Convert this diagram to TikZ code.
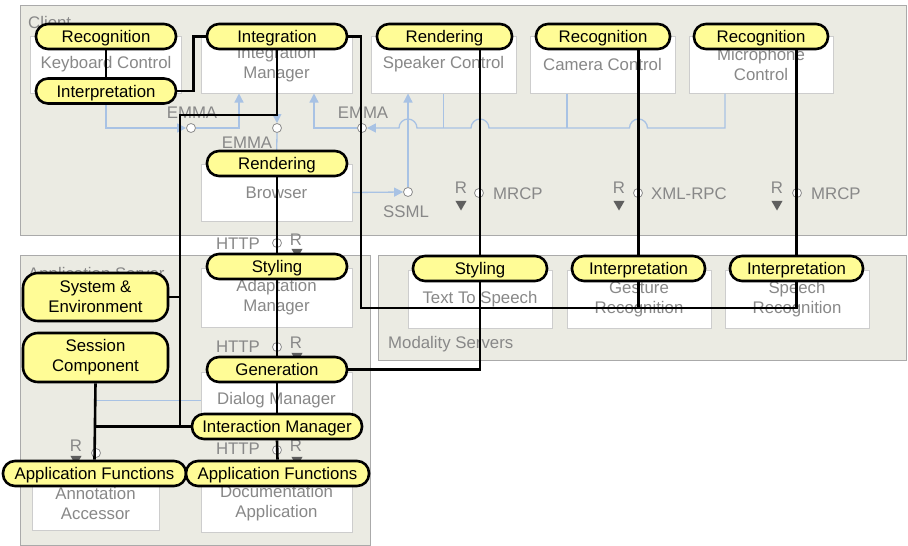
\documentclass[tikz,border=0pt]{standalone}
\usepackage{fontspec}
\setmainfont{Liberation Sans}
\usetikzlibrary{arrows.meta,shapes.geometric,calc}
\definecolor{contfill}{RGB}{235,235,227}
\definecolor{contline}{RGB}{170,170,170}
\definecolor{compline}{RGB}{205,205,205}
\definecolor{txtgray}{RGB}{136,136,136}
\definecolor{capfill}{RGB}{255,252,150}
\definecolor{flowblue}{RGB}{168,194,228}
\definecolor{portline}{RGB}{140,140,140}
\definecolor{rdark}{RGB}{95,95,95}
\newcommand{\fsz}{\fontsize{16.8}{20}\selectfont}
\pgfdeclarelayer{base}
\pgfdeclarelayer{links}
\pgfsetlayers{base,links,main}
\begin{document}
\begin{tikzpicture}[x=1pt,y=-1pt,
  container/.style={draw=contline, fill=contfill, line width=1pt},
  comp/.style={draw=compline, fill=white, line width=1pt, text=txtgray, font=\fsz, align=center, inner sep=0pt},
  lbl/.style={text=txtgray, font=\fsz, inner sep=0pt},
  capbase/.style={draw=black, line width=2.6pt, fill=capfill, rounded corners=12pt, minimum height=25pt, inner sep=0pt, font=\fsz, align=center},
  capsule/.style={capbase, text height=12pt, text depth=0pt},
  link/.style={draw=black, line width=2.6pt},
  flow/.style={draw=flowblue, line width=1.3pt},
  flowto/.style={flow, -{Triangle[length=9pt,width=9pt]}},
  port/.style={circle, draw=portline, fill=white, line width=0.8pt, minimum size=9pt, inner sep=0pt},
  rmark/.style={regular polygon, regular polygon sides=3, shape border rotate=180, fill=rdark, minimum size=13pt, inner sep=0pt}
]
\useasboundingbox (0,0) rectangle (908,546);

% ---- capsules (top layer) ----
\node[capsule, minimum width=140pt] (capRecKbd) at (106,36.5) {Recognition};
\node[capsule, minimum width=140pt] (capIntKbd) at (106,91) {Interpretation};
\node[capsule, minimum width=140pt] (capIntegr) at (277,36.5) {Integration};
\node[capsule, minimum width=140pt] (capRendBr) at (277,163.5) {Rendering};
\node[capsule, minimum width=135pt] (capRendSpk) at (444.5,36.5) {Rendering};
\node[capsule, minimum width=134pt] (capRecCam) at (603,36.5) {Recognition};
\node[capsule, minimum width=134pt] (capRecMic) at (761,36.5) {Recognition};
\node[capsule, minimum width=140pt] (capStyAd) at (277,266.5) {Styling};
\node[capbase, minimum width=145pt, minimum height=48pt, rounded corners=15pt] (capSys) at (95.5,297) {System \&\\Environment};
\node[capbase, minimum width=145pt, minimum height=49pt, rounded corners=15pt] (capSess) at (95.5,357.5) {Session\\Component};
\node[capsule, minimum width=140pt] (capGen) at (277,369.5) {Generation};
\node[capsule, minimum width=170pt] (capIM) at (277,426.5) {Interaction Manager};
\node[capsule, minimum width=183pt] (capAFl) at (94.5,473.5) {Application Functions};
\node[capsule, minimum width=183pt] (capAFr) at (277.5,473.5) {Application Functions};
\node[capsule, minimum width=134pt] (capStyTTS) at (480,268.5) {Styling};
\node[capsule, minimum width=133pt] (capIntG) at (638.5,268.5) {Interpretation};
\node[capsule, minimum width=133pt] (capIntS) at (796.5,268.5) {Interpretation};

\begin{pgfonlayer}{base}
% ---- containers ----
\draw[container] (20,5) rectangle (906,235);
\draw[container] (20,255) rectangle (370,545);
\draw[container] (378,255) rectangle (906,360);
\node[lbl, anchor=base west] (clientlbl) at (28,28) {Client};
\node[lbl, anchor=base west] (appsrvlbl) at (28,279) {Application Server};
\node[lbl, anchor=base west] (modlbl) at (388,348) {Modality Servers};

% ---- components ----
\node[comp, minimum width=151pt, minimum height=57pt] (kbd) at (106,64.5) {Keyboard Control};
\node[comp, minimum width=151pt, minimum height=57pt] (intm) at (276.5,64.5) {Integration\\Manager};
\node[comp, minimum width=145pt, minimum height=57pt] (spk) at (443.5,64.5) {Speaker Control};
\node[comp, minimum width=145pt, minimum height=57pt] (cam) at (602.5,64.5) {Camera Control};
\node[comp, minimum width=144pt, minimum height=57pt] (mic) at (761,64.5) {Microphone\\Control};
\node[comp, minimum width=151pt, minimum height=57pt] (browser) at (276.5,192.5) {Browser};
\node[comp, minimum width=151pt, minimum height=59pt] (adapt) at (276.5,297.5) {Adaptation\\Manager};
\node[comp, minimum width=151pt, minimum height=56pt] (dialog) at (276.5,400) {Dialog Manager};
\node[comp, minimum width=127pt, minimum height=54pt] (annot) at (95.5,503) {Annotation\\Accessor};
\node[comp, minimum width=151pt, minimum height=58pt] (docapp) at (276.5,503) {Documentation\\Application};
\node[comp, minimum width=144pt, minimum height=58pt] (tts) at (480,299) {Text To Speech};
\node[comp, minimum width=144pt, minimum height=58pt] (gesture) at (639,299) {Gesture\\Recognition};
\node[comp, minimum width=144pt, minimum height=58pt] (speech) at (797,299) {Speech\\Recognition};

% ---- ports ----
\node[port] (emmaA) at (191,128) {};
\node[port] (emmaB) at (277,128) {};
\node[port] (emmaC) at (362,128) {};
\node[port] (ssml) at (408,192) {};
\node[port] (mrcpA) at (479,193) {};
\node[port] (xmlrpc) at (638,193) {};
\node[port] (mrcpB) at (797,193) {};
\node[port] (httpA) at (277,243) {};
\node[port] (httpB) at (277,347) {};
\node[port] (httpC) at (277,450) {};
\node[port] (annport) at (96,453) {};

% ---- required-interface marks ----
\node[rmark] (rtA) at (461,204) {};
\node[rmark] (rtB) at (619,204) {};
\node[rmark] (rtC) at (777,204) {};
\node[rmark] (rtD) at (297,252) {};
\node[rmark] (rtE) at (297,356) {};
\node[rmark] (rtF) at (297,460) {};
\node[rmark] (rtG) at (76,459) {};

% ---- data flows ----
\draw[flowto] (kbd.south) |- (emmaA.west);
\draw[flowto] (emmaA.east) -| ([xshift=-37.5pt]intm.south);
\draw[flowto] (intm.south) -- (emmaB.north);
\draw[flow] (emmaB.south) -- (browser.north);
\draw[flowto] (emmaC.west) -| ([xshift=37.5pt]intm.south);
\draw[flowto] ([xshift=-36pt]mic.south) |- ($(capIntG |- emmaC)+(9,0)$)
  arc[start angle=0,end angle=180,radius=9pt]
  -- ($(capStyTTS |- emmaC)+(9,0)$)
  arc[start angle=0,end angle=180,radius=9pt]
  -- ($(ssml |- emmaC)+(9,0)$)
  arc[start angle=0,end angle=180,radius=9pt]
  -- (emmaC.east);
\draw[flow] ([xshift=-35.5pt]cam.south) -- ([xshift=-35.5pt]cam.south |- emmaC);
\draw[flow] (spk.south) -- (spk.south |- emmaC);
\draw[flowto] (browser.east) -- (ssml.west);
\draw[flowto] (ssml.north) -- (ssml.north |- spk.south);
\draw[flow, line width=0.9pt] (annport |- dialog.west) -- (dialog.west);

% ---- interface labels ----
\node[lbl] (emmaAl) at (192,112.5) {EMMA};
\node[lbl] (emmaBl) at (247,142.5) {EMMA};
\node[lbl] (emmaCl) at (363,112.5) {EMMA};
\node[lbl] (ssmll) at (406,211.5) {SSML};
\node[lbl] (rA) at (461,187.5) {R};
\node[lbl] (rB) at (619,187.5) {R};
\node[lbl] (rC) at (777,187.5) {R};
\node[lbl, anchor=west] (mrcpAl) at (493,194) {MRCP};
\node[lbl, anchor=west] (xmll) at (651,194) {XML-RPC};
\node[lbl, anchor=west] (mrcpBl) at (811,194) {MRCP};
\node[lbl] (httpAl) at (238,244) {HTTP};
\node[lbl] (httpBl) at (238,347) {HTTP};
\node[lbl] (httpCl) at (238,449) {HTTP};
\node[lbl] (rD) at (296,239.5) {R};
\node[lbl] (rE) at (296,342.5) {R};
\node[lbl] (rF) at (296,446) {R};
\node[lbl] (rG) at (76,446) {R};
\end{pgfonlayer}

\begin{pgfonlayer}{links}
% ---- keyboard chain ----
\draw[link] (capRecKbd.south) -- (capIntKbd.north);
\draw[link] (capIntKbd.east) -- ++(16,0) |- (capIntegr.west);
% ---- integration trunk to the interaction manager ----
\coordinate (trunk) at (180,115);
\draw[link] (capIntegr.south) |- (trunk) |- (capIM.west);
\draw[link] (capSys.east) -- (capSys.east -| trunk);
\draw[link] (capSess.south) -- (capAFl.north);
\draw[link] (capSess.south |- capIM.west) -- (capIM.west);
% ---- integration to modality interpretation ----
\coordinate (drop) at (361,308);
\draw[link] (capIntegr.east) -| (drop) -| (capIntS.south);
\draw[link] (capIntG.south) -- (capIntG.south |- drop);
% ---- device chains into modality servers ----
\draw[link] (capStyTTS.north |- capRendSpk.south) -- (capStyTTS.north);
\draw[link] (capIntG.north |- capRecCam.south) -- (capIntG.north);
\draw[link] (capIntS.north |- capRecMic.south) -- (capIntS.north);
\draw[link] (capStyTTS.south) |- (capGen.east);
% ---- central chain ----
\draw[link] (capRendBr.south) -- (capStyAd.north);
\draw[link] (capStyAd.south) -- (capGen.north);
\draw[link] (capGen.south) -- (capIM.north);
\draw[link] (capIM.south) -- (capAFr.north);
\end{pgfonlayer}

\end{tikzpicture}
\end{document}
